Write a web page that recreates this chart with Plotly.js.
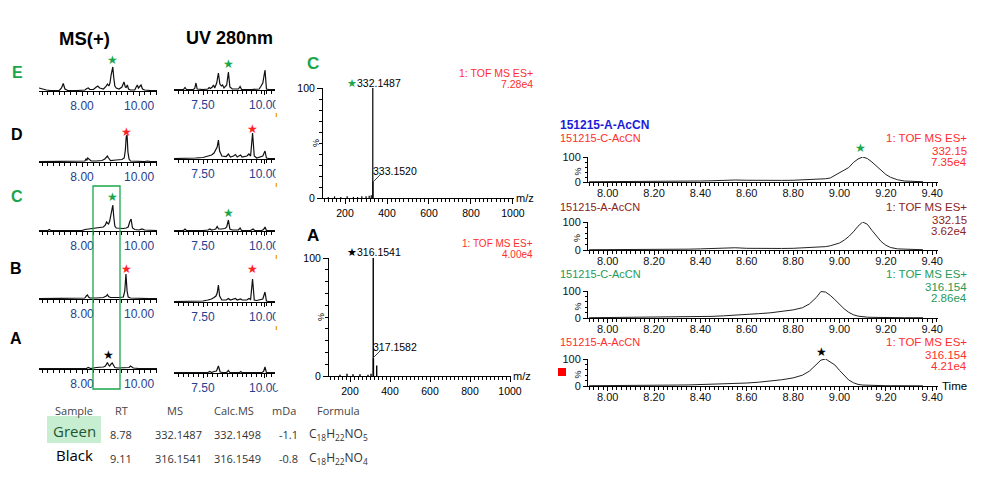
<!DOCTYPE html>
<html><head><meta charset="utf-8">
<script src="https://cdn.plot.ly/plotly-3.0.1.min.js"></script>
<style>body{margin:0;background:#fff}#chart{width:984px;height:481px}</style>
</head><body><div id="chart"></div>
<script>
// ---------- DATA ----------
// Left column: MS(+) chromatograms (retention time, relative intensity)
const msE_x=[6.49,6.6,6.75,6.9,7.2,7.28,7.34,7.4,7.5,7.8,8.1,8.17,8.22,8.27,8.4,8.48,8.55,8.62,8.75,8.84,8.89,8.94,8.98,9.02,9.05,9.08,9.11,9.15,9.2,9.3,9.4,9.47,9.52,9.55,9.59,9.63,9.7,9.85,9.9,9.94,9.98,10.02,10.07,10.12,10.2,10.4,10.63];
const msE_y=[3,2,1,0.5,0.5,3,7.5,2,0.5,0.5,1,2.5,3,1.5,1.5,3.5,5,3,2,4.5,7,5,8,16,22,24,14,5,3,2,4,9,4,3.5,6,2,1,1,4,6,3,4,6,2,1,0.5,0.5];
const msD_x=[6.49,7.0,7.5,8.0,8.1,8.14,8.17,8.2,8.24,8.27,8.32,8.5,8.7,8.8,8.85,8.89,8.93,9.0,9.2,9.4,9.48,9.52,9.55,9.58,9.61,9.65,9.7,9.9,10.2,10.3,10.4,10.63];
const msD_y=[0.3,0.3,0.3,0.5,1,3,2,4,3,1.5,1,1,1.5,3,5,6,4,1.5,2,2.5,4,12,25,27,10,3,1,0.5,0.5,1,0.5,0.3];
const msC_x=[6.49,6.8,6.85,6.9,7.5,8.0,8.1,8.3,8.5,8.65,8.75,8.82,8.86,8.89,8.93,8.97,9.01,9.05,9.08,9.11,9.15,9.2,9.3,9.45,9.55,9.62,9.67,9.72,9.77,9.85,10.0,10.1,10.2,10.63];
const msC_y=[0.5,0.5,1.5,0.5,0.5,0.5,1.5,2.5,3,3.5,4,6,9,8,7,10,17,24,26,15,5,3,2.5,2.5,3,4,9,12,3,1.5,1,2,1,0.5];
const msB_x=[6.49,7.5,8.0,8.1,8.15,8.19,8.23,8.28,8.5,8.75,8.85,8.89,8.93,9.0,9.3,9.45,9.5,9.54,9.58,9.62,9.7,10.0,10.05,10.1,10.3,10.63];
const msB_y=[0.3,0.3,0.5,1,3,4,2,1,1,1.5,3,4.5,2.5,1.5,1.5,2,8,25,8,2,1,0.5,1,0.5,0.5,0.3];
const msA_x=[6.49,7.5,8.0,8.15,8.22,8.3,8.5,8.65,8.75,8.82,8.86,8.89,8.93,8.97,9.02,9.06,9.1,9.15,9.25,9.5,9.65,9.7,9.74,9.8,10.0,10.1,10.15,10.3,10.63];
const msA_y=[0.3,0.3,0.3,0.5,1.5,0.5,1.5,2,2,3,5,6.5,4,3,5,6,4,1.5,1,1,1.5,3,2,1,0.5,1,0.5,0.3,0.3];
// UV 280nm chromatograms
const uvE_x=[6.31,6.7,6.76,6.82,7.1,7.16,7.21,7.26,7.5,7.7,7.75,7.8,7.88,7.93,7.98,8.06,8.13,8.19,8.25,8.3,8.36,8.47,8.54,8.6,8.7,8.95,9.02,9.08,9.5,9.8,9.88,9.95,10.04,10.1,10.2,10.45];
const uvE_y=[0.5,0.5,2.5,0.5,0.5,1.5,7,1,0.5,1,2.5,1.5,3,5,2,7,17,6,4,5,2,5,18,3,1,1,3.5,0.5,0.5,1,4,7,20,1,0.5,0.5];
const uvD_x=[6.31,6.8,7.2,7.5,7.7,7.85,7.95,8.03,8.08,8.13,8.18,8.27,8.45,8.54,8.62,8.75,8.83,8.9,9.0,9.04,9.1,9.3,9.38,9.45,9.53,9.6,9.7,9.95,10.04,10.1,10.2,10.45];
const uvD_y=[0.5,0.5,1,1.5,2.5,4,6,9,12,19,8,3,2.5,5,2,3,4.5,2,3,4,2,3,5,3,26,3,1,3,8,1,0.5,0.5];
const uvC_x=[6.31,6.7,6.76,6.82,7.5,7.7,7.78,7.85,7.95,8.02,8.08,8.14,8.25,8.4,8.47,8.54,8.6,8.7,8.95,9.02,9.08,9.45,9.55,9.62,9.9,9.98,10.04,10.1,10.45];
const uvC_y=[0.5,0.5,2,0.5,0.5,1,2,1,1.5,2,4.5,2,2,2.5,4,11,2,1,1,3,0.5,0.5,2,0.5,0.5,1.5,4,0.5,0.5];
const uvB_x=[6.31,7.0,7.5,7.7,7.85,7.95,8.03,8.08,8.13,8.18,8.27,8.45,8.54,8.62,8.75,8.83,8.9,9.0,9.04,9.1,9.3,9.38,9.45,9.53,9.6,9.7,9.95,10.04,10.1,10.2,10.45];
const uvB_y=[0.5,0.5,1,2,3,4.5,6,9,17,6,2,2,3.5,2,2.5,3.5,2,2.5,3,2,2,3.5,2.5,23,2,1.5,3,10,1,0.5,0.5];
const uvA_x=[6.31,7.5,7.7,7.78,7.85,7.95,8.05,8.13,8.2,8.3,8.47,8.54,8.6,9.0,9.05,9.1,9.9,9.98,10.04,10.1,10.45];
const uvA_y=[0.3,0.3,0.5,1.5,0.5,1.5,2,7,1,0.5,0.5,2.5,0.5,0.5,1.5,0.3,0.3,1.5,6,0.3,0.3];
// Mass spectra (m/z, %)
const specC_mz=[120,150,180,210,240,260,280,300,315,325,332.1487,333.1520];
const specC_int=[1,1.5,1,1.5,1,1,1.5,1.5,2,2.5,100,15];
const specA_mz=[150,185,215,250,290,305,316.1541,317.1582,333.5];
const specA_int=[1,2,1.5,1.5,1,2,100,15,9];
// Right column: extracted ion chromatograms (time, %)
const eicX=[7.92,8.0,8.05,8.1,8.15,8.2,8.25,8.3,8.35,8.4,8.45,8.5,8.55,8.6,8.65,8.7,8.75,8.8,8.84,8.87,8.9,8.92,8.94,8.96,8.98,9.0,9.02,9.04,9.06,9.08,9.1,9.12,9.14,9.16,9.18,9.2,9.22,9.25,9.28,9.32,9.36];
const eicC332=[1,1,1.5,1.5,2,2,2.5,3,3.5,4,5,7,8,7,6,6,6.5,7,8,9,10,11,13,16,26,38,48,58,78,92,100,94,80,62,44,30,19,9,4,2,1];
const eicA332=[1,1,1,1.5,1.5,2,2,2.5,3,4,5,7,8,6,5,5,5.5,6,7,8,9,10,12,15,19,25,35,48,65,85,100,92,70,48,30,17,9,4,2.5,1.5,1];
const eicC316=[1,1.5,1.5,2,2,2.5,3,3.5,4,5,6,8,10,13,16,19,24,30,38,52,76,98,96,84,68,50,34,21,12,7,4,3,2.5,2,2,1.5,1.5,1,1,1,1];
const eicA316=[1,1,1.5,1.5,2,2.5,3,3.5,4,5,6,7,9,11,14,18,23,30,40,55,78,96,100,88,78,58,38,22,12,6,3.5,2.5,2,1.5,1.5,1,1,1,1,0.5,0.5];
// Table
const tableHeader=["Sample","RT","MS","Calc.MS","mDa","Formula"];
const tableRows=[
  ["Green","8.78","332.1487","332.1498","-1.1","C<sub>18</sub>H<sub>22</sub>NO<sub>5</sub>"],
  ["Black","9.11","316.1541","316.1549","-0.8","C<sub>18</sub>H<sub>22</sub>NO<sub>4</sub>"]
];

// ---------- LAYOUT HELPERS ----------
const W=984,H=481;
const PX=x=>x/W, PY=y=>1-y/H;
const GREEN='#1aa64b', RED='#ff2d2d', MAROON='#8b2323', TEAL='#1f9a58', BLUE='#1c1cd8', NAVY='#27408b';
const FONT='Liberation Sans, Arial, sans-serif';
const TFONT='Open Sans, Noto Sans, sans-serif';
const layout={width:W,height:H,margin:{l:0,r:0,t:0,b:0},paper_bgcolor:'#fff',plot_bgcolor:'rgba(0,0,0,0)',
  showlegend:false,annotations:[],shapes:[],font:{family:FONT}};
const data=[];
let n=0;
function panel(x0,x1,yTop,yBot,xa,ya,traces){
  n++;
  const xk='xaxis'+(n===1?'':n), yk='yaxis'+(n===1?'':n);
  const xr='x'+(n===1?'':n), yr='y'+(n===1?'':n);
  layout[xk]=Object.assign({domain:[PX(x0),PX(x1)],anchor:yr,showgrid:false,zeroline:false,fixedrange:true,
    showline:true,linecolor:'#000',linewidth:1,ticks:'outside',tickcolor:'#000',tickwidth:1},xa);
  layout[yk]=Object.assign({domain:[PY(yBot),PY(yTop)],anchor:xr,showgrid:false,zeroline:false,fixedrange:true},ya);
  traces.forEach(t=>{data.push(Object.assign({type:'scatter',mode:'lines',hoverinfo:'skip',xaxis:xr,yaxis:yr,cliponaxis:false},t));});
}
function ann(text,x,y,o){
  o=o||{};
  layout.annotations.push({text:text,x:PX(x),y:PY(y),xref:'paper',yref:'paper',showarrow:false,
    xanchor:o.xa||'center',yanchor:o.ya||'middle',textangle:o.angle||0,
    font:{family:o.family||FONT,size:o.size||11,color:o.color||'#000'},
    borderpad:0});
}
function stick(mz,inten){const x=[],y=[];mz.forEach((m,i)=>{x.push(m,m,null);y.push(0,inten[i],null);});return {x,y};}

// ---------- LEFT: MS(+) ----------
const msSets=[[msE_x,msE_y],[msD_x,msD_y],[msC_x,msC_y],[msB_x,msB_y],[msA_x,msA_y]];
const msBase=[91,162,231,299,369];
msSets.forEach((s,i)=>{
  panel(39,157,msBase[i]-32,msBase[i],
    {range:[6.49,10.63],tickvals:[8,10],ticktext:['8.00','10.00'],ticklen:4,
     tickfont:{size:12,color:NAVY,family:FONT},
     minor:{dtick:0.2,tick0:0,ticks:'outside',ticklen:3,tickcolor:'#000'}},
    {range:[0,32],visible:false},
    [{x:s[0],y:s[1],line:{color:'#111',width:1.2}}]);
});
// UV 280nm
const uvSets=[[uvE_x,uvE_y],[uvD_x,uvD_y],[uvC_x,uvC_y],[uvB_x,uvB_y],[uvA_x,uvA_y]];
const uvBase=[90,159,231,302,373];
uvSets.forEach((s,i)=>{
  panel(174,275,uvBase[i]-32,uvBase[i],
    {range:[6.31,10.45],tickvals:[7.5,10],ticktext:['7.50','10.00'],ticklen:4,
     tickfont:{size:12,color:NAVY,family:FONT},
     minor:{dtick:0.2,tick0:7.5,ticks:'outside',ticklen:3,tickcolor:'#000'}},
    {range:[0,32],visible:false},
    [{x:s[0],y:s[1],line:{color:'#111',width:1.2}}]);
});

// ---------- MIDDLE: spectra ----------
const specAxX={range:[95,1005],tickvals:[200,400,600,800,1000],ticklen:5,tickfont:{size:10.5,color:'#000'},
  minor:{dtick:20,tick0:0,ticks:'outside',ticklen:3,tickcolor:'#000'}};
const specAxY={range:[0,100],tickvals:[0,100],ticklen:5,showline:true,linecolor:'#000',ticks:'outside',tickcolor:'#000',
  tickfont:{size:10.5,color:'#000'},minor:{dtick:10,tick0:0,ticks:'outside',ticklen:3,tickcolor:'#000'}};
const sc=stick(specC_mz,specC_int);
panel(323,514,88,198,specAxX,specAxY,[{x:sc.x,y:sc.y,line:{color:'#000',width:1.2}}]);
const sa=stick(specA_mz,specA_int);
panel(329,511,258,376,specAxX,specAxY,[{x:sa.x,y:sa.y,line:{color:'#000',width:1.4}}]);

// ---------- RIGHT: EICs ----------
const eicSets=[eicC332,eicA332,eicC316,eicA316];
const eicBands=[[157,182],[222,250],[291,318],[359,386]];
eicSets.forEach((s,i)=>{
  panel(588,938,eicBands[i][0],eicBands[i][1],
    {range:[7.915,9.425],tick0:8,dtick:0.2,tickformat:'.2f',ticklen:4,ticklabelstandoff:-3,tickfont:{size:11,color:'#111'},
     minor:{dtick:0.02,tick0:8,ticks:'outside',ticklen:3,tickcolor:'#000'}},
    {range:[0,100],tickvals:[0,100],ticklen:4,showline:true,linecolor:'#000',ticks:'outside',tickcolor:'#000',
     tickfont:{size:11,color:'#111'},minor:{dtick:20,tick0:0,ticks:'outside',ticklen:2,tickcolor:'#000'}},
    [{x:eicX,y:s,line:{color:'#222',width:1}}]);
});

// ---------- TEXT ----------
ann('<b>MS(+)</b>',84,38,{size:18.5});
ann('<b>UV 280nm</b>',229,38,{size:18});
ann('<b>E</b>',17,72,{size:16,color:GREEN});
ann('<b>D</b>',17,134,{size:16});
ann('<b>C</b>',17,196,{size:16,color:GREEN});
ann('<b>B</b>',16,268,{size:16});
ann('<b>A</b>',16,338,{size:16});
// stars left
const star='★';
ann(star,112.7,60,{size:12,color:GREEN});
ann(star,126.7,132,{size:12,color:'#ff2020'});
ann(star,112.7,197,{size:12,color:GREEN});
ann(star,126,269,{size:12,color:'#ff2020'});
ann(star,108.3,355,{size:12,color:'#000'});
ann(star,228.3,64,{size:12,color:GREEN});
ann(star,252.3,129,{size:12,color:'#ff2020'});
ann(star,228.3,213,{size:12,color:GREEN});
ann(star,252.3,269,{size:12,color:'#ff2020'});
// spectrum C
ann('<b>C</b>',313,63,{size:17,color:GREEN});
ann('1: TOF MS ES+',534,73,{xa:'right',size:10.5,color:RED});
ann('7.28e4',534,84,{xa:'right',size:10.5,color:RED});
ann('<span style="color:'+GREEN+'">★</span>332.1487',346,83,{xa:'left',size:10.5});
ann('333.1520',372,171,{xa:'left',size:10.5});
ann('%',316,143,{size:9,angle:-90});
ann('m/z',525,198,{size:11});
// spectrum A
ann('<b>A</b>',313,235,{size:17});
ann('1: TOF MS ES+',534,243.5,{xa:'right',size:10,color:RED});
ann('4.00e4',534,254.5,{xa:'right',size:10,color:RED});
ann('★316.1541',346,252,{xa:'left',size:10.5});
ann('317.1582',372,347,{xa:'left',size:10.5});
ann('%',321,317,{size:9,angle:-90});
ann('m/z',522,376,{size:11});
// right EIC labels
ann('<b>151215-A-AcCN</b>',559,125,{xa:'left',size:12,color:BLUE});
const eicLab=[
  ['151215-C-AcCN',RED,'332.15','7.35e4'],
  ['151215-A-AcCN',MAROON,'332.15','3.62e4'],
  ['151215-C-AcCN',TEAL,'316.154','2.86e4'],
  ['151215-A-AcCN',RED,'316.154','4.21e4']];
const eicLabY=[138,207,274,342];
eicLab.forEach((l,i)=>{
  const y=eicLabY[i];
  ann(l[0],559,y,{xa:'left',size:11,color:l[1]});
  ann('1: TOF MS ES+',968,y,{xa:'right',size:11.5,color:l[1]});
  ann(l[2],968,y+13,{xa:'right',size:11.5,color:l[1]});
  ann(l[3],968,y+24,{xa:'right',size:11.5,color:l[1]});
  ann('%',577,(eicBands[i][0]+eicBands[i][1])/2+2,{size:9,angle:-90});
});
ann(star,860,148,{size:12,color:GREEN});
ann(star,821,352,{size:12,color:'#000'});
ann('Time',954,386,{size:11.5});
// table
const colX=[74,121,175,234,284,338];
tableHeader.forEach((h,i)=>ann(h,colX[i],410,{size:11,color:'#444',family:TFONT}));
const valX=[74,121,178,237,288,338];
const rowY=[433,457];
tableRows.forEach((r,ri)=>{
  r.forEach((v,ci)=>{
    if(ci===0){
      ann(v,valX[0],rowY[ri]-2,{size:15,color:ri===0?'#1e5631':'#000',family:TFONT});
    } else {
      ann(v,valX[ci],rowY[ri]+1,{size:ci===5?12:11,color:'#333',family:TFONT});
    }
  });
});

// ---------- SHAPES ----------
const sh=layout.shapes;
function rect(x0,y0,x1,y1,o){sh.push(Object.assign({type:'rect',xref:'paper',yref:'paper',x0:PX(x0),x1:PX(x1),y0:PY(y1),y1:PY(y0)},o));}
function line(x0,y0,x1,y1,o){sh.push(Object.assign({type:'line',xref:'paper',yref:'paper',x0:PX(x0),x1:PX(x1),y0:PY(y0),y1:PY(y1)},o));}
rect(47,416,101,443,{fillcolor:'#c8eed2',line:{width:0},layer:'below'});
rect(93,186,120,389,{fillcolor:'rgba(0,0,0,0)',line:{color:GREEN,width:1.3},layer:'above'});
rect(275.6,85,296,390,{fillcolor:'#fff',line:{width:0},layer:'above'});
[115,185,257,328].forEach(y=>rect(275.6,y-2,277,y+2,{fillcolor:'#f2a33a',line:{width:0},layer:'above'}));
line(373,182,380,175,{line:{color:'#444',width:1},layer:'above'});
line(373,358,380,351,{line:{color:'#444',width:1},layer:'above'});
rect(558,368,566,376,{fillcolor:'#ff0000',line:{width:0},layer:'above'});

Plotly.newPlot('chart',data,layout,{staticPlot:true,displayModeBar:false});
</script>
</body></html>
